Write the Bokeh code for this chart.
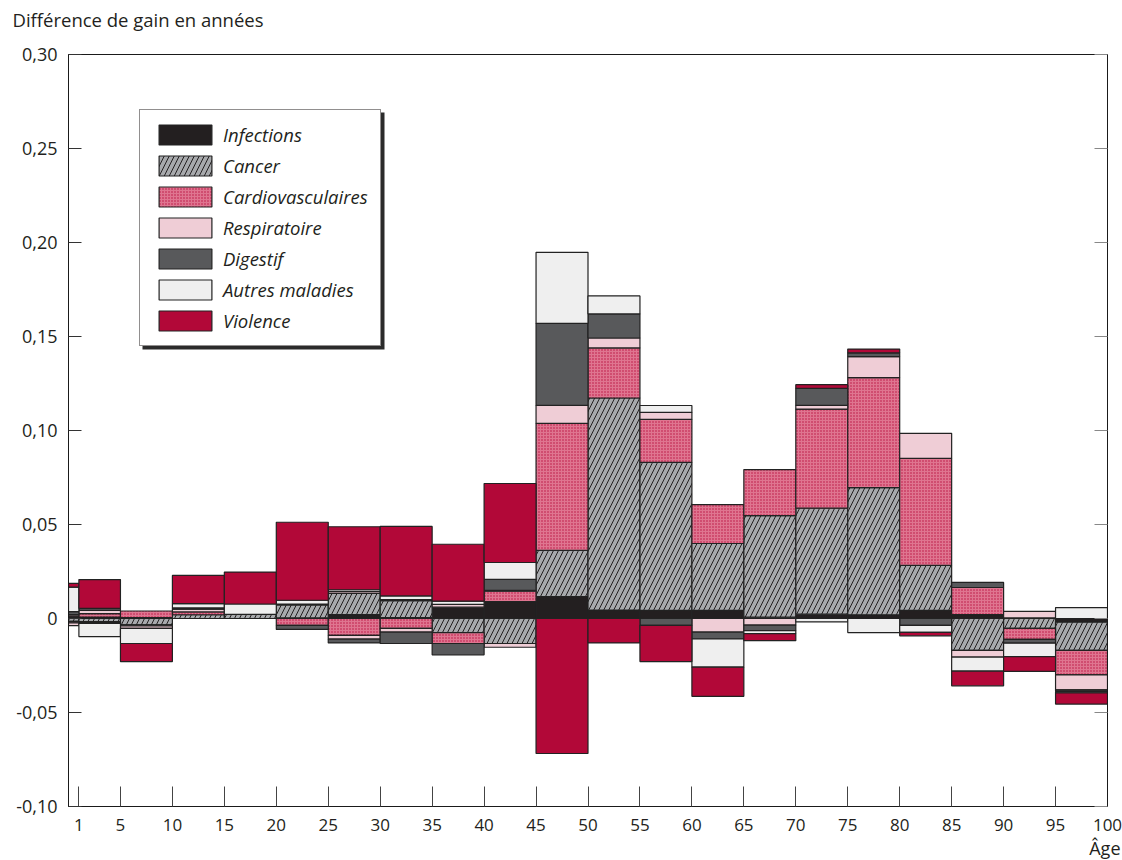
from bokeh.plotting import figure
from bokeh.models import (Legend, LegendItem, LinearAxis, FixedTicker, CustomJSTickFormatter,
                          Title, BoxAnnotation, ColumnDataSource, Range1d)
from bokeh.embed import file_html
from bokeh.resources import INLINE

# ---------------- data ----------------
age_start = [0, 1, 5, 10, 15, 20, 25, 30, 35, 40, 45, 50, 55, 60, 65, 70, 75, 80, 85, 90, 95]
age_end = [1, 5, 10, 15, 20, 25, 30, 35, 40, 45, 50, 55, 60, 65, 70, 75, 80, 85, 90, 95, 100]

x_ticks = [1, 5, 10, 15, 20, 25, 30, 35, 40, 45, 50, 55, 60, 65, 70, 75, 80, 85, 90, 95, 100]
y_ticks = [-0.10, -0.05, 0.0, 0.05, 0.10, 0.15, 0.20, 0.25, 0.30]

categories = ["Infections", "Cancer", "Cardiovasculaires", "Respiratoire",
              "Digestif", "Autres maladies", "Violence"]

#                  0-1     1-5     5-10    10-15   15-20   20-25   25-30   30-35   35-40   40-45   45-50   50-55   55-60   60-65   65-70   70-75   75-80   80-85   85-90   90-95   95-100
infections_pos = [0.0005, 0.0008, 0.0005, 0.0,    0.0,    0.0003, 0.0021, 0.0005, 0.006,  0.009,  0.0117, 0.0045, 0.0043, 0.0043, 0.0007, 0.0023, 0.002,  0.0043, 0.0021, 0.0003, 0.0]
infections_neg = [0.0,    0.0,    0.0,    0.0,    0.0,    0.0,    0.0,    0.0,    0.0,    0.0,    0.0,    0.0,    0.0,    0.0,    0.0,    0.0,    0.0,    0.0,    0.0,    0.0,   -0.002]
cancer_pos = [0.0,    0.0,    0.0,    0.002,  0.0022, 0.0069, 0.0112, 0.009,  0.0,    0.0,    0.0245, 0.1128, 0.0787, 0.0356, 0.054,  0.0564, 0.0676, 0.024,  0.0,    0.0,    0.0]
cancer_neg = [-0.0015, -0.0016, -0.0034, 0.0,  0.0,    0.0,    0.0,    0.0,   -0.0075, -0.0133, 0.0,   0.0,    0.0,    0.0,    0.0,    0.0,    0.0,    0.0,   -0.017, -0.0053, -0.015]
cardio_pos = [0.0008, 0.0018, 0.0035, 0.0015, 0.0,    0.0,    0.0,    0.0,    0.0,    0.0055, 0.0676, 0.0266, 0.0229, 0.0207, 0.0245, 0.0527, 0.0585, 0.0569, 0.0144, 0.0,    0.0]
cardio_neg = [-0.0008, -0.0005, -0.0005, 0.0,  0.0,   -0.0037, -0.009, -0.0053, -0.0058, 0.0,  0.0,    0.0,    0.0,    0.0,    0.0,    0.0,    0.0,    0.0,    0.0,   -0.0058, -0.013]
respi_pos = [0.0008, 0.0017, 0.0,    0.0015, 0.0,    0.0005, 0.001,  0.0005, 0.0015, 0.0005, 0.0096, 0.0053, 0.0037, 0.0,    0.0,    0.002,  0.0112, 0.0133, 0.0,    0.0035, 0.0]
respi_neg = [-0.0015, -0.0005, -0.0014, 0.0,   0.0,    0.0,   -0.002, -0.002,  0.0,   -0.002,  0.0,    0.0,    0.0,   -0.0072, -0.0035, 0.0,  0.0,    0.0,   -0.0035, 0.0,  -0.008]
digestif_pos = [0.0016, 0.0011, 0.0,  0.0006, 0.0,    0.0,    0.0,    0.0,    0.0,    0.0058, 0.0436, 0.0128, 0.0,    0.0,    0.0,    0.009,  0.002,  0.0,    0.0027, 0.0,    0.0]
digestif_neg = [0.0,   0.0,    0.0,    0.0,    0.0,   -0.0021, -0.002, -0.006, -0.006,  0.0,    0.0,    0.0,   -0.0037, -0.0037, -0.003, 0.0,   0.0,   -0.0037, 0.0,  -0.002, -0.0008]
autres_pos = [0.013,  0.0,    0.0,    0.0023, 0.0055, 0.002,  0.001,  0.002,  0.0017, 0.009,  0.0378, 0.0096, 0.0037, 0.0,    0.0,    0.0,    0.0,    0.0,    0.0,    0.0,    0.0058]
autres_neg = [0.0,   -0.007,  -0.008,  0.0,    0.0,    0.0,    0.0,    0.0,    0.0,    0.0,    0.0,    0.0,    0.0,   -0.015, -0.0015, -0.0018, -0.0075, -0.0037, -0.0075, -0.0072, -0.0008]
violence_pos = [0.002,  0.0153, 0.0,  0.015,  0.017,  0.0415, 0.0335, 0.037,  0.0303, 0.042,  0.0,    0.0,    0.0,    0.0,    0.0,    0.002,  0.002,  0.0,    0.0,    0.0,    0.0]
violence_neg = [0.0,   0.0,   -0.0096, 0.0,    0.0,    0.0,    0.0,    0.0,    0.0,    0.0,   -0.0718, -0.013, -0.0192, -0.0155, -0.0038, 0.0,  0.0,   -0.0018, -0.0078, -0.0078, -0.0059]

pos_values = [infections_pos, cancer_pos, cardio_pos, respi_pos, digestif_pos, autres_pos, violence_pos]
neg_values = [infections_neg, cancer_neg, cardio_neg, respi_neg, digestif_neg, autres_neg, violence_neg]

styles = [
    dict(fill_color="#231f20"),
    dict(fill_color="#a7a9ac", hatch_pattern="/", hatch_color="#231f20", hatch_scale=10, hatch_weight=1),
    dict(fill_color="#df7590", hatch_pattern=".", hatch_color="#b8103f", hatch_scale=3, hatch_weight=1),
    dict(fill_color="#efcdd6"),
    dict(fill_color="#58595b"),
    dict(fill_color="#efefef"),
    dict(fill_color="#b20838"),
]

FONT = "Open Sans"
TXT = "#231f20"

# ---------------- figure ----------------
p = figure(width=1122, height=860, x_range=Range1d(0, 100), y_range=Range1d(-0.10, 0.30),
           output_backend="svg", toolbar_location=None,
           min_border_left=68, min_border_right=15, min_border_top=54, min_border_bottom=54)
p.xgrid.visible = False
p.ygrid.visible = False
p.outline_line_color = "#1a1a1a"
p.outline_line_width = 1
p.background_fill_color = "white"
p.border_fill_color = "white"

# stacked segments
n = len(age_start)
pos_base = [0.0] * n
neg_base = [0.0] * n
renderers = []
for cat, pv, nv, st in zip(categories, pos_values, neg_values, styles):
    left, right, bottom, top = [], [], [], []
    for i in range(n):
        if pv[i] != 0:
            left.append(age_start[i]); right.append(age_end[i])
            bottom.append(pos_base[i]); top.append(pos_base[i] + pv[i])
            pos_base[i] += pv[i]
        if nv[i] != 0:
            left.append(age_start[i]); right.append(age_end[i])
            top.append(neg_base[i]); bottom.append(neg_base[i] + nv[i])
            neg_base[i] += nv[i]
    src = ColumnDataSource(dict(left=left, right=right, bottom=bottom, top=top))
    r = p.quad(left="left", right="right", bottom="bottom", top="top", source=src,
               line_color="#222222", line_width=1.2, **st)
    renderers.append(r)

# axes
xa = p.xaxis[0]
xa.ticker = FixedTicker(ticks=x_ticks)
xa.major_tick_in = 20
xa.major_tick_out = 0
xa.major_tick_line_color = "#444444"
xa.minor_tick_line_color = None
xa.axis_line_color = "#1a1a1a"
xa.major_label_standoff = 12
xa.major_label_text_font = FONT
xa.major_label_text_font_size = "17px"
xa.major_label_text_color = TXT

ya = p.yaxis[0]
ya.ticker = FixedTicker(ticks=y_ticks)
ya.formatter = CustomJSTickFormatter(
    code="if (Math.abs(tick) < 1e-9) { return '0'; } return tick.toFixed(2).replace('.', ',');")
ya.major_tick_in = 13
ya.major_tick_out = 0
ya.major_tick_line_color = "#333333"
ya.minor_tick_line_color = None
ya.axis_line_color = "#1a1a1a"
ya.major_label_standoff = 11
ya.major_label_text_font = FONT
ya.major_label_text_font_size = "18px"
ya.major_label_text_color = TXT

ra = LinearAxis(ticker=FixedTicker(ticks=y_ticks), formatter=CustomJSTickFormatter(code="return '';"),
                major_tick_in=13, major_tick_out=0, major_tick_line_color="#888888",
                minor_tick_line_color=None, axis_line_color="#1a1a1a",
                major_label_standoff=0, major_label_text_font_size="1px")
p.add_layout(ra, "right")

# texts (a small blank spacer panel lifts the title away from the frame)
p.add_layout(Title(text=" ", standoff=18, text_font=FONT, text_font_size="2px"), "above")
p.add_layout(Title(text="Différence de gain en années", align="left", offset=-56, standoff=0,
                   text_font=FONT, text_font_size="18.5px", text_font_style="normal",
                   text_color=TXT), "above")
p.add_layout(Title(text="Âge", align="right", offset=-13, standoff=0,
                   text_font=FONT, text_font_size="18px", text_font_style="normal",
                   text_color=TXT), "below")

# legend shadow + legend
shadow = BoxAnnotation(left=142, right=384, top=112, bottom=349,
                       left_units="canvas", right_units="canvas",
                       top_units="canvas", bottom_units="canvas",
                       fill_color="#2b2b2b", fill_alpha=1, line_color=None)
p.add_layout(shadow)

legend = Legend(items=[LegendItem(label=c, renderers=[r]) for c, r in zip(categories, renderers)],
                location=(71, 460), orientation="vertical", margin=0, padding=12, spacing=6,
                glyph_width=66, glyph_height=25, label_height=25, label_standoff=5,
                label_text_font=FONT, label_text_font_style="italic", label_text_font_size="18.5px",
                label_text_color=TXT, border_line_color="#231f20", border_line_width=1,
                background_fill_color="white", background_fill_alpha=1)
p.add_layout(legend)

open("out.html", "w").write(file_html(p, INLINE))
